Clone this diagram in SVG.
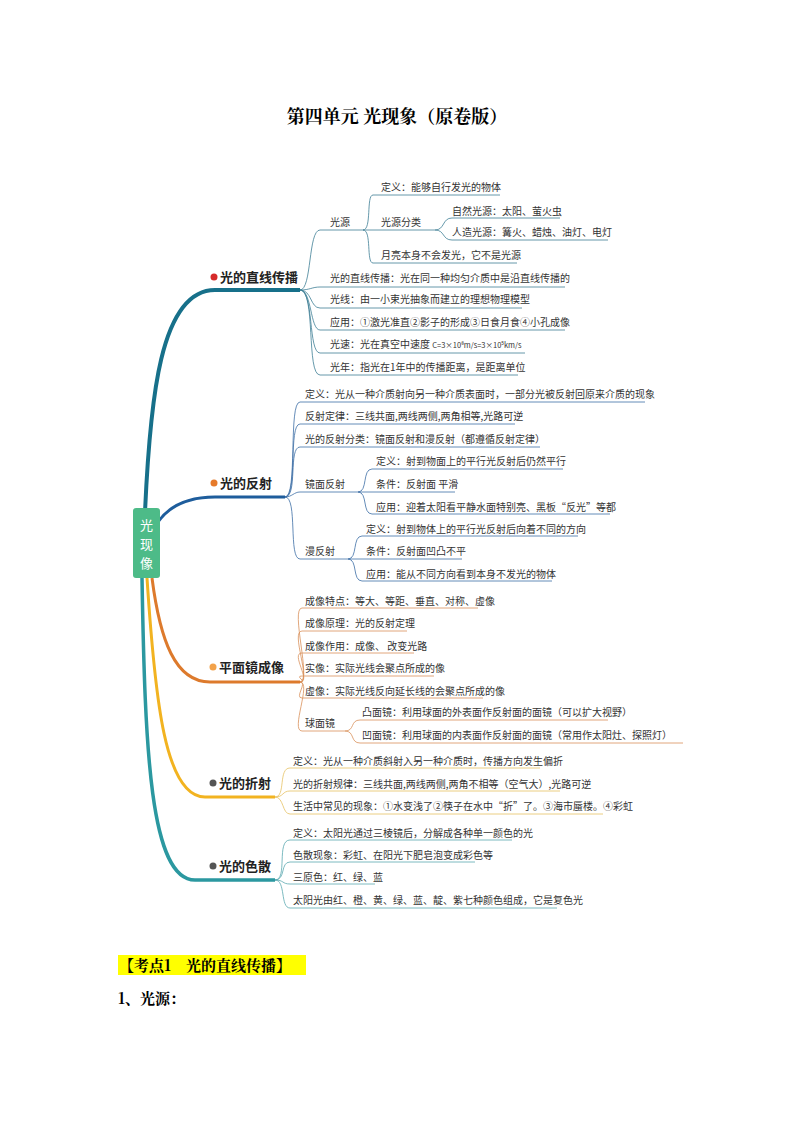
<svg xmlns="http://www.w3.org/2000/svg" width="794" height="1123" viewBox="0 0 794 1123">
<style>
text{font-family:"Noto Sans CJK SC","Noto Sans",sans-serif;fill:#333}
.t{font-size:10px}
.b{font-size:13px;font-weight:bold;fill:#222}
.s{font-family:"Noto Serif CJK SC","Liberation Serif","Noto Sans CJK SC",serif;font-weight:bold;fill:#000}
.c1{fill:none;stroke:#3f7f96;stroke-width:0.8}
.c2{fill:none;stroke:#3d6ea6;stroke-width:0.8}
.c3{fill:none;stroke:#d9915a;stroke-width:0.8}
.c4{fill:none;stroke:#e6c263;stroke-width:0.8}
.c5{fill:none;stroke:#5aa8b0;stroke-width:0.8}
</style>
<rect width="794" height="1123" fill="#fff"/>
<text x="397" y="123" text-anchor="middle" class="s" font-size="18">第四单元 光现象（原卷版）</text>
<g id="connectors">
<path d="M145 512 C150 400 160 290 215 290 L300 290" fill="none" stroke="#17708a" stroke-width="4"/>
<path d="M158 522 C170 505 190 497 215 497 L285 497" fill="none" stroke="#1e5d9c" stroke-width="3"/>
<path d="M152 578 C160 640 175 682 210 682 L300 682" fill="none" stroke="#dd7a2c" stroke-width="3"/>
<path d="M147 578 C155 700 165 797 205 797 L275 797" fill="none" stroke="#f2b320" stroke-width="3"/>
<path d="M142 578 C145 750 150 880 195 880 L275 880" fill="none" stroke="#2b98a0" stroke-width="3.5"/>
<path class="c1" d="M300 290 C312 290 308 230 320 230 L363 230 M363 230 C372 230 366 195 373 195 L500 195 M363 230 L435 230 M435 230 C445 230 442 218 452 218 L560 218 M435 230 C445 230 442 240 452 240 L608 240 M363 230 C372 230 366 263 373 263 L517 263"/>
<path class="c1" d="M300 290 C310 290 312 287 320 287 L565 287 M300 290 C312 290 310 308 320 308 L522 308 M300 290 C312 290 310 330 320 330 L565 330 M300 290 C314 290 308 353 320 353 L525 353 M300 290 C316 290 306 375 320 375 L518 375"/>
<path class="c2" d="M285 497 C298 497 288 402 300 402 L645 402 M285 497 C298 497 288 424 300 424 L515 424 M285 497 C298 497 288 447 300 447 L540 447 M285 497 C292 497 294 492 300 492 L358 492 M358 492 C368 492 362 469 372 469 L563 469 M358 492 L455 492 M358 492 C368 492 362 514 372 514 L610 514 M285 497 C298 497 288 559 300 559 L348 559 M348 559 C358 559 352 536 362 536 L578 536 M348 559 L462 559 M348 559 C358 559 352 581 362 581 L552 581"/>
<path class="c3" d="M300 682 C312 682 290 608 302 608 L478 608 M300 682 C312 682 290 631 302 631 L407 631 M300 682 C312 682 290 653 302 653 L414 653 M300 682 C308 682 294 676 302 676 L434 676 M300 682 C308 682 294 698 302 698 L483 698 M300 682 C312 682 290 731 302 731 L345 731 M345 731 C355 731 350 720 360 720 L608 720 M345 731 C355 731 350 743 360 743 L683 743"/>
<path class="c4" d="M275 797 C286 797 278 768 290 768 L540 768 M275 797 C284 797 282 791 290 791 L560 791 M275 797 C284 797 282 814 290 814 L603 814"/>
<path class="c5" d="M275 880 C288 880 276 840 290 840 L512 840 M275 880 C286 880 280 862 290 862 L475 862 M275 880 C284 880 282 884 290 884 L375 884 M275 880 C286 880 280 908 290 908 L557 908"/>
</g>
<g id="root"><rect x="133" y="508" width="27" height="70" rx="3" fill="#4dbb88"/>
<text x="146.5" y="530" text-anchor="middle" font-size="13" style="fill:#fff">光</text>
<text x="146.5" y="549" text-anchor="middle" font-size="13" style="fill:#fff">现</text>
<text x="146.5" y="568" text-anchor="middle" font-size="13" style="fill:#fff">像</text></g>
<g id="b1"><circle cx="214" cy="277" r="3.5" fill="#d62a2a"/><text x="220" y="282" class="b">光的直线传播</text></g>
<g id="b2"><circle cx="214" cy="483" r="3.5" fill="#e67a2a"/><text x="220" y="488" class="b">光的反射</text></g>
<g id="b3"><circle cx="213" cy="667" r="3.5" fill="#f2a24a"/><text x="219" y="672" class="b">平面镜成像</text></g>
<g id="b4"><circle cx="213" cy="783" r="3.5" fill="#555"/><text x="219" y="788" class="b">光的折射</text></g>
<g id="b5"><circle cx="213" cy="866" r="3.5" fill="#555"/><text x="219" y="871" class="b">光的色散</text></g>
<g id="leaves1" class="t">
<text x="330" y="226">光源</text>
<text x="381" y="191">定义：能够自行发光的物体</text>
<text x="381" y="226">光源分类</text>
<text x="452" y="215">自然光源：太阳、萤火虫</text>
<text x="452" y="236">人造光源：篝火、蜡烛、油灯、电灯</text>
<text x="381" y="259">月亮本身不会发光，它不是光源</text>
<text x="330" y="282">光的直线传播：光在同一种均匀介质中是沿直线传播的</text>
<text x="330" y="303">光线：由一小束光抽象而建立的理想物理模型</text>
<text x="330" y="326">应用：①激光准直②影子的形成③日食月食④小孔成像</text>
<text x="330" y="348">光速：光在真空中速度 <tspan font-size="7.5">C=3×10⁸m/s=3×10⁵km/s</tspan></text>
<text x="330" y="371">光年：指光在1年中的传播距离，是距离单位</text>
</g>
<g id="leaves2" class="t">
<text x="305" y="398">定义：光从一种介质射向另一种介质表面时，一部分光被反射回原来介质的现象</text>
<text x="305" y="420">反射定律：三线共面,两线两侧,两角相等,光路可逆</text>
<text x="305" y="443">光的反射分类：镜面反射和漫反射（都遵循反射定律）</text>
<text x="305" y="488">镜面反射</text>
<text x="376" y="465">定义：射到物面上的平行光反射后仍然平行</text>
<text x="376" y="488">条件：反射面 平滑</text>
<text x="376" y="511">应用：迎着太阳看平静水面特别亮、黑板“反光”等都</text>
<text x="305" y="555">漫反射</text>
<text x="366" y="533">定义：射到物体上的平行光反射后向着不同的方向</text>
<text x="366" y="555">条件：反射面凹凸不平</text>
<text x="366" y="578">应用：能从不同方向看到本身不发光的物体</text>
</g>
<g id="leaves3" class="t">
<text x="305" y="605">成像特点：等大、等距、垂直、对称、虚像</text>
<text x="305" y="627">成像原理：光的反射定理</text>
<text x="305" y="650">成像作用：成像、 改变光路</text>
<text x="305" y="672">实像：实际光线会聚点所成的像</text>
<text x="305" y="695">虚像：实际光线反向延长线的会聚点所成的像</text>
<text x="305" y="727">球面镜</text>
<text x="362" y="716">凸面镜：利用球面的外表面作反射面的面镜（可以扩大视野）</text>
<text x="362" y="739">凹面镜：利用球面的内表面作反射面的面镜（常用作太阳灶、探照灯）</text>
</g>
<g id="leaves4" class="t">
<text x="293" y="765">定义：光从一种介质斜射入另一种介质时，传播方向发生偏折</text>
<text x="293" y="788">光的折射规律：三线共面,两线两侧,两角不相等（空气大）,光路可逆</text>
<text x="293" y="810">生活中常见的现象：①水变浅了②筷子在水中“折”了。③海市蜃楼。④彩虹</text>
</g>
<g id="leaves5" class="t">
<text x="293" y="837">定义：太阳光通过三棱镜后，分解成各种单一颜色的光</text>
<text x="293" y="859">色散现象：彩虹、在阳光下肥皂泡变成彩色等</text>
<text x="293" y="881">三原色：红、绿、蓝</text>
<text x="293" y="904">太阳光由红、橙、黄、绿、蓝、靛、紫七种颜色组成，它是复色光</text>
</g>
<rect x="118" y="955" width="188" height="20" fill="#ffff00"/>
<text x="119" y="971" class="s" font-size="15">【考点1　光的直线传播】</text>
<text x="118" y="1004" class="s" font-size="15">1、光源：</text>
</svg>
